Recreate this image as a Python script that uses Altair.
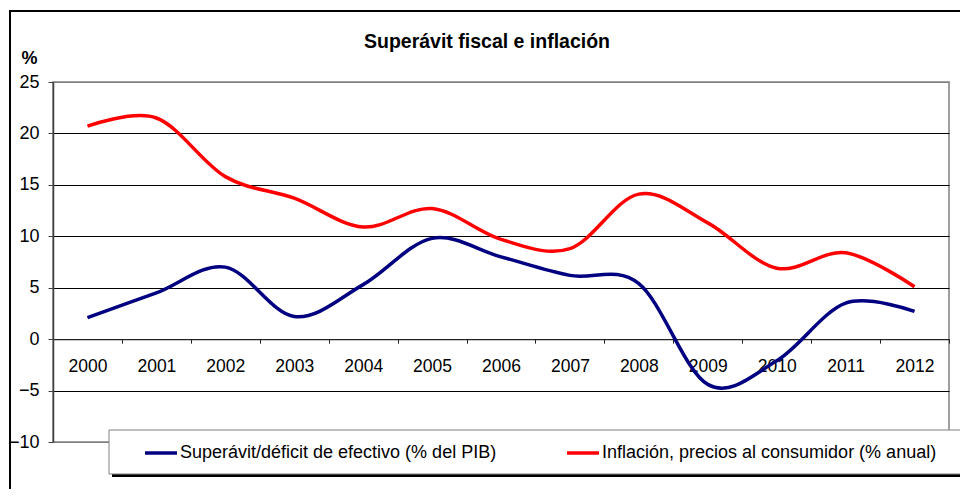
import altair as alt
import pandas as pd

years = ["2000", "2001", "2002", "2003", "2004", "2005", "2006",
         "2007", "2008", "2009", "2010", "2011", "2012"]
superavit = [2.1, 4.5, 7.0, 2.2, 5.3, 9.8, 8.0, 6.2, 5.4, -4.4, -2.1, 3.5, 2.7]
inflacion = [20.7, 21.5, 15.8, 13.7, 10.9, 12.7, 9.7, 8.8, 14.1, 11.3, 6.9, 8.4, 5.1]
serie_sup = "Superávit/déficit de efectivo (% del PIB)"
serie_inf = "Inflación, precios al consumidor (% anual)"
y_ticks = [-10, -5, 0, 5, 10, 15, 20, 25]

df = pd.DataFrame({
    "year": years * 2,
    "value": superavit + inflacion,
    "serie": [serie_sup] * len(years) + [serie_inf] * len(years),
})

W, H = 896, 360
ymin, ymax = -10, 25
zero_offset = -(H - (ymax - 0) / (ymax - ymin) * H)
FONT = "Liberation Sans"

x = alt.X(
    "year:O", sort=years,
    scale=alt.Scale(type="band", paddingInner=0, paddingOuter=0),
    bandPosition=0.5,
    axis=alt.Axis(title=None, tickBand="extent", offset=zero_offset, labelAngle=0,
                  labelFontSize=17.5, labelPadding=14, tickSize=4,
                  domainColor="#222222", tickColor="#222222", domainWidth=1.2,
                  labelColor="black", grid=False),
)
y = alt.Y(
    "value:Q",
    scale=alt.Scale(domain=[ymin, ymax], nice=False, zero=False),
    axis=alt.Axis(values=y_ticks, title="%", titleAngle=0, titleX=-24, titleY=-19,
                  titleAlign="center", titleBaseline="alphabetic", titleFontSize=18,
                  titleFontWeight="bold", titleColor="black",
                  labelFontSize=18, labelPadding=9, tickSize=5, labelColor="black",
                  grid=True,
                  gridColor={"condition": {"test": "datum.value === 25 || datum.value === -10",
                                           "value": "#808080"}, "value": "#000000"},
                  gridWidth=1,
                  domainColor="#404040", tickColor="#404040", domainWidth=1.5),
)
color = alt.Color(
    "serie:N",
    scale=alt.Scale(domain=[serie_sup, serie_inf], range=["#000080", "#FF0000"]),
    legend=alt.Legend(orient="none", legendX=90, legendY=353, direction="horizontal",
                      columns=2, columnPadding=63, title=None, symbolType="stroke",
                      symbolSize=1024, symbolStrokeWidth=3.5, labelFontSize=18,
                      labelOffset=1, labelLimit=1000, padding=0, zindex=1,
                      labelColor="black"),
)

dummy = alt.Chart(pd.DataFrame({"k": [0]}))
frame = dummy.mark_rect(filled=False, stroke="black", strokeWidth=2, clip=False).encode(
    x=alt.value(-43), x2=alt.value(1500), y=alt.value(-71), y2=alt.value(1500))
shadow = dummy.mark_rect(color="black", clip=False).encode(
    x=alt.value(59), x2=alt.value(916), y=alt.value(351), y2=alt.value(395))
box = dummy.mark_rect(fill="white", stroke="#808080", strokeWidth=1, clip=False).encode(
    x=alt.value(56), x2=alt.value(913), y=alt.value(348), y2=alt.value(392))

lines = alt.Chart(df).mark_line(interpolate="cardinal", tension=0, strokeWidth=3.5).encode(
    x=x, y=y, color=color)

chart = alt.layer(frame, lines, shadow, box).properties(
    width=W, height=H,
    title=alt.TitleParams("Superávit fiscal e inflación", fontSize=19.5, fontWeight="bold",
                          font=FONT, anchor="middle", frame="group", dx=-14,
                          baseline="alphabetic", offset=-57, color="black"),
    padding={"left": 45, "top": 74, "right": 11, "bottom": 47},
    autosize=alt.AutoSizeParams(type="none"),
).configure(font=FONT).configure_view(stroke="#808080", strokeWidth=1.5)

chart.save("out.html", embed_options={"renderer": "svg", "actions": False})
